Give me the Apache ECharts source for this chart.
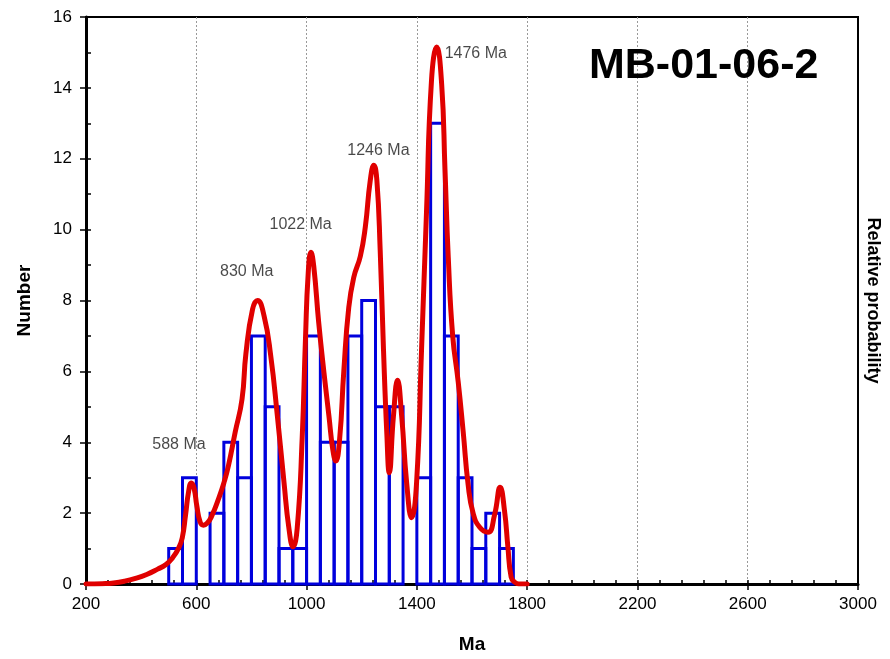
<!DOCTYPE html>
<html>
<head>
<meta charset="utf-8">
<title>MB-01-06-2</title>
<script src="https://cdn.jsdelivr.net/npm/echarts@6/dist/echarts.min.js"></script>
<style>
    html, body {
        margin: 0;
        padding: 0;
        background: #fff;
        overflow: hidden;
    }
    #chart {
        width: 890px;
        height: 659px;
    }
</style>
</head>
<body>
<div id="chart"></div>
<script>
// histogram bins (Ma), bin width 50
const binWidth = 50
const binStarts = [500, 550, 600, 650, 700, 750, 800, 850, 900, 950, 1000, 1050, 1100,
    1150, 1200, 1250, 1300, 1350, 1400, 1450, 1500, 1550, 1600, 1650, 1700]
const binCounts = [1, 3, 0, 2, 4, 3, 7, 5, 1, 1, 7, 4, 4,
    7, 8, 5, 5, 0, 3, 13, 7, 3, 1, 2, 1]

// relative probability curve
const probAges = [200, 260, 300, 340, 380, 420, 460, 490, 515, 535,
    549, 561, 572, 582, 592, 602, 614, 626, 640, 655,
    681, 700, 717, 741, 766, 780, 804, 822, 846, 870,
    894, 918, 936, 951, 966, 984, 996, 1006, 1016, 1026,
    1044, 1063, 1081, 1095, 1106, 1120, 1135, 1153, 1171, 1195,
    1213, 1231, 1244, 1255, 1267, 1279, 1291, 1300, 1315, 1330,
    1345, 1363, 1381, 1399, 1417, 1435, 1453, 1472, 1490, 1502,
    1514, 1530, 1550, 1568, 1586, 1604, 1628, 1658, 1682, 1702,
    1718, 1730, 1742, 1755, 1770, 1800]
const probValues = [0, 0.01, 0.03, 0.08, 0.16, 0.27, 0.42, 0.55, 0.75, 1.0,
    1.3, 1.94, 2.6, 2.85, 2.7, 2.2, 1.75, 1.66, 1.72, 1.9,
    2.41, 2.85, 3.35, 4.28, 5.22, 6.5, 7.75, 8.0, 7.56, 6.44,
    4.75, 2.88, 1.57, 1.05, 1.57, 4.1, 6.91, 8.78, 9.36, 8.97,
    7.38, 5.97, 4.75, 3.8, 3.47, 4.1, 6.0, 7.8, 8.65, 9.25,
    10.07, 11.39, 11.82, 11.39, 9.42, 6.61, 4.26, 3.14, 4.73, 5.75,
    4.73, 2.86, 1.87, 2.86, 6.61, 10.5, 14.2, 15.15, 14.1, 11.7,
    9.2, 7.0, 5.7, 4.3, 2.8, 2.0, 1.6, 1.46, 1.96, 2.73,
    2.06, 1.06, 0.2, 0.05, 0, 0]

// peak annotations
const peakAges = [588, 830, 1022, 1246, 1476]
const peakValues = [2.85, 8.0, 9.36, 11.82, 15.15]
const peakLabelOffsets = [[-14, -38], [-13, -29], [-12, -28], [4, -15], [38, 6]]

const sampleName = 'MB-01-06-2'

const font = 'Liberation Sans, Arial, sans-serif'

const chart = echarts.init(document.getElementById('chart'))

chart.setOption({
    animation: false,
    backgroundColor: '#fff',
    title: {
        text: sampleName,
        left: 584,
        top: 40,
        textStyle: {
            fontFamily: font,
            fontSize: 43,
            fontWeight: 'bold',
            color: '#000',
        },
    },
    grid: {
        left: 86,
        top: 17,
        width: 776,
        height: 569,
        show: true,
        borderColor: '#000',
        borderWidth: 2,
    },
    xAxis: [
        {
            type: 'value',
            min: 200,
            max: 3000,
            interval: 400,
            name: 'Ma',
            nameLocation: 'middle',
            nameGap: 51,
            nameTextStyle: { fontFamily: font, fontSize: 19, fontWeight: 'bold', color: '#000' },
            axisLine: { lineStyle: { color: '#000', width: 3 } },
            axisTick: { show: true, length: 6, lineStyle: { color: '#000', width: 1.5 } },
            axisLabel: { fontFamily: font, fontSize: 17, color: '#000', margin: 12, formatter: (v) => String(v) },
            splitLine: { show: true, lineStyle: { color: '#999', width: 1, type: [2, 2] } },
        },
        {
            // minor ticks, pointing inward
            type: 'value',
            min: 200,
            max: 3000,
            interval: 80,
            position: 'bottom',
            axisLine: { show: false },
            axisTick: { show: true, inside: true, length: 4, lineStyle: { color: '#000', width: 1.5 } },
            axisLabel: { show: false },
            splitLine: { show: false },
        },
    ],
    yAxis: [
        {
            type: 'value',
            min: 0,
            max: 16,
            interval: 2,
            name: 'Number',
            nameLocation: 'middle',
            nameRotate: 90,
            nameGap: 52,
            nameTextStyle: { fontFamily: font, fontSize: 19, fontWeight: 'bold', color: '#000' },
            axisLine: { show: true, lineStyle: { color: '#000', width: 3 } },
            axisTick: { show: true, length: 6, lineStyle: { color: '#000', width: 1.5 } },
            axisLabel: { fontFamily: font, fontSize: 17, color: '#000', margin: 14 },
            splitLine: { show: false },
        },
        {
            type: 'value',
            min: 0,
            max: 16,
            position: 'right',
            name: 'Relative probability',
            nameLocation: 'middle',
            nameRotate: -90,
            nameGap: 6,
            nameTextStyle: { fontFamily: font, fontSize: 18, fontWeight: 'bold', color: '#000' },
            axisLine: { show: true, lineStyle: { color: '#000', width: 2 } },
            axisTick: { show: false },
            axisLabel: { show: false },
            splitLine: { show: false },
        },
        {
            // minor ticks on the left axis
            type: 'value',
            min: 0,
            max: 16,
            interval: 1,
            position: 'left',
            axisLine: { show: false },
            axisTick: { show: true, inside: true, length: 5, lineStyle: { color: '#000', width: 1.5 } },
            axisLabel: { show: false },
            splitLine: { show: false },
        },
    ],
    series: [
        {
            // histogram
            type: 'custom',
            xAxisIndex: 0,
            yAxisIndex: 0,
            z: 3,
            data: binStarts.map((s, i) => [s, binCounts[i]]),
            encode: { x: 0, y: 1 },
            renderItem: (params, api) => {
                const start = api.value(0)
                const count = api.value(1)
                if (!count) return null
                const p0 = api.coord([start, count])
                const p1 = api.coord([start + binWidth, 0])
                return {
                    type: 'rect',
                    shape: { x: p0[0], y: p0[1], width: p1[0] - p0[0], height: p1[1] - p0[1] },
                    style: { fill: 'none', stroke: '#0000dd', lineWidth: 3 },
                }
            },
        },
        {
            // relative probability curve
            type: 'line',
            xAxisIndex: 0,
            yAxisIndex: 1,
            z: 5,
            data: probAges.map((a, i) => [a, probValues[i]]),
            showSymbol: false,
            smooth: 0.5,
            lineStyle: { color: '#e00000', width: 5, join: 'round', cap: 'round' },
        },
        {
            // peak labels
            type: 'scatter',
            xAxisIndex: 0,
            yAxisIndex: 1,
            z: 6,
            symbolSize: 0,
            data: peakAges.map((a, i) => ({
                value: [a, peakValues[i]],
                label: { offset: peakLabelOffsets[i] },
            })),
            label: {
                show: true,
                position: 'inside',
                formatter: (p) => p.value[0] + ' Ma',
                fontFamily: font,
                fontSize: 16,
                color: '#1a1a1a',
            },
        },
    ],
})
</script>
</body>
</html>
